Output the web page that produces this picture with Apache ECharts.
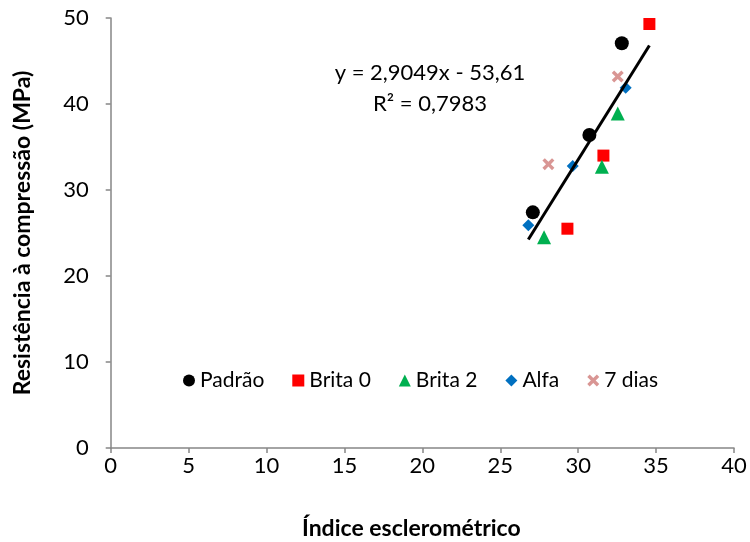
<!DOCTYPE html>
<html>
<head>
<meta charset="utf-8">
<script src="https://cdn.jsdelivr.net/npm/echarts@6/dist/echarts.min.js"></script>
<style>html,body{margin:0;padding:0;background:#fff}#c{width:750px;height:542px}</style>
</head>
<body>
<div id="c"></div>
<script>
var seriesNames = ['Padrão', 'Brita 0', 'Brita 2', 'Alfa', '7 dias'];
var padrao = [[27.09, 27.4], [30.72, 36.4], [32.8, 47.06]];
var brita0 = [[29.31, 25.5], [31.62, 34.0], [34.57, 49.3]];
var brita2 = [[27.81, 24.5], [31.52, 32.7], [32.54, 38.9]];
var alfa = [[26.8, 25.9], [29.65, 32.8], [33.05, 41.9]];
var seteDias = [[28.09, 33.0], [32.54, 43.2]];
var trendX = [26.8, 34.57];
var trendY = [24.24, 46.81];
var equationText = 'y = 2,9049x - 53,61';
var r2Text = 'R² = 0,7983';
var xTitle = 'Índice esclerométrico';
var yTitle = 'Resistência à compressão (MPa)';

var FONT = 'Lato';
var xPath = 'path://M2,0 L5,3 L8,0 L10,2 L7,5 L10,8 L8,10 L5,7 L2,10 L0,8 L3,5 L0,2 Z';
var styles = [
  {symbol: 'circle', size: 14, color: '#000000'},
  {symbol: 'rect', size: 12, color: '#FF0000'},
  {symbol: 'triangle', size: 14, color: '#00B050'},
  {symbol: 'diamond', size: 12, color: '#0070C0'},
  {symbol: xPath, size: 12, color: '#D99694'}
];
var datasets = [padrao, brita0, brita2, alfa, seteDias];
var series = datasets.map(function (d, i) {
  return {
    name: seriesNames[i], type: 'scatter', data: d,
    symbol: styles[i].symbol, symbolSize: styles[i].size,
    itemStyle: {color: styles[i].color, opacity: 1}, z: 3
  };
});
series.push({
  name: 'trend', type: 'line',
  data: trendX.map(function (x, i) { return [x, trendY[i]]; }),
  showSymbol: false, symbol: 'none',
  lineStyle: {color: '#000', width: 3}, z: 4, silent: true
});

var chart = echarts.init(document.getElementById('c'), null, {renderer: 'canvas'});
chart.setOption({
  animation: false,
  backgroundColor: '#fff',
  grid: {left: 110.7, right: 16, top: 18, bottom: 94, containLabel: false, outerBoundsMode: 'none'},
  xAxis: {
    type: 'value', min: 0, max: 40, interval: 5,
    axisLine: {show: true, lineStyle: {color: '#868686', width: 1.5}},
    axisTick: {show: true, length: 5, lineStyle: {color: '#868686', width: 1.5}},
    splitLine: {show: false},
    axisLabel: {color: '#000', fontFamily: FONT, fontSize: 22, margin: 7},
    name: xTitle, nameLocation: 'middle', nameGap: 69,
    nameTextStyle: {color: '#000', fontFamily: FONT, fontSize: 23, fontWeight: 'bold', padding: [0, 22, 0, 0]}
  },
  yAxis: {
    type: 'value', min: 0, max: 50, interval: 10,
    axisLine: {show: true, lineStyle: {color: '#868686', width: 1.5}},
    axisTick: {show: true, length: 5, lineStyle: {color: '#868686', width: 1.5}},
    splitLine: {show: false},
    axisLabel: {color: '#000', fontFamily: FONT, fontSize: 22, margin: 22},
    name: yTitle, nameLocation: 'middle', nameGap: 77, nameRotate: 90,
    nameTextStyle: {color: '#000', fontFamily: FONT, fontSize: 23, fontWeight: 'bold'}
  },
  legend: {
    data: seriesNames, left: 178, top: 365, itemGap: 28,
    itemWidth: 12, itemHeight: 12,
    textStyle: {color: '#000', fontFamily: FONT, fontSize: 21}
  },
  graphic: [
    {type: 'text', x: 430, y: 73, style: {text: equationText, textAlign: 'center', textVerticalAlign: 'middle', fill: '#000', font: '22px ' + FONT}},
    {type: 'text', x: 430, y: 104, style: {text: r2Text, textAlign: 'center', textVerticalAlign: 'middle', fill: '#000', font: '22px ' + FONT}}
  ],
  series: series
});
</script>
</body>
</html>
